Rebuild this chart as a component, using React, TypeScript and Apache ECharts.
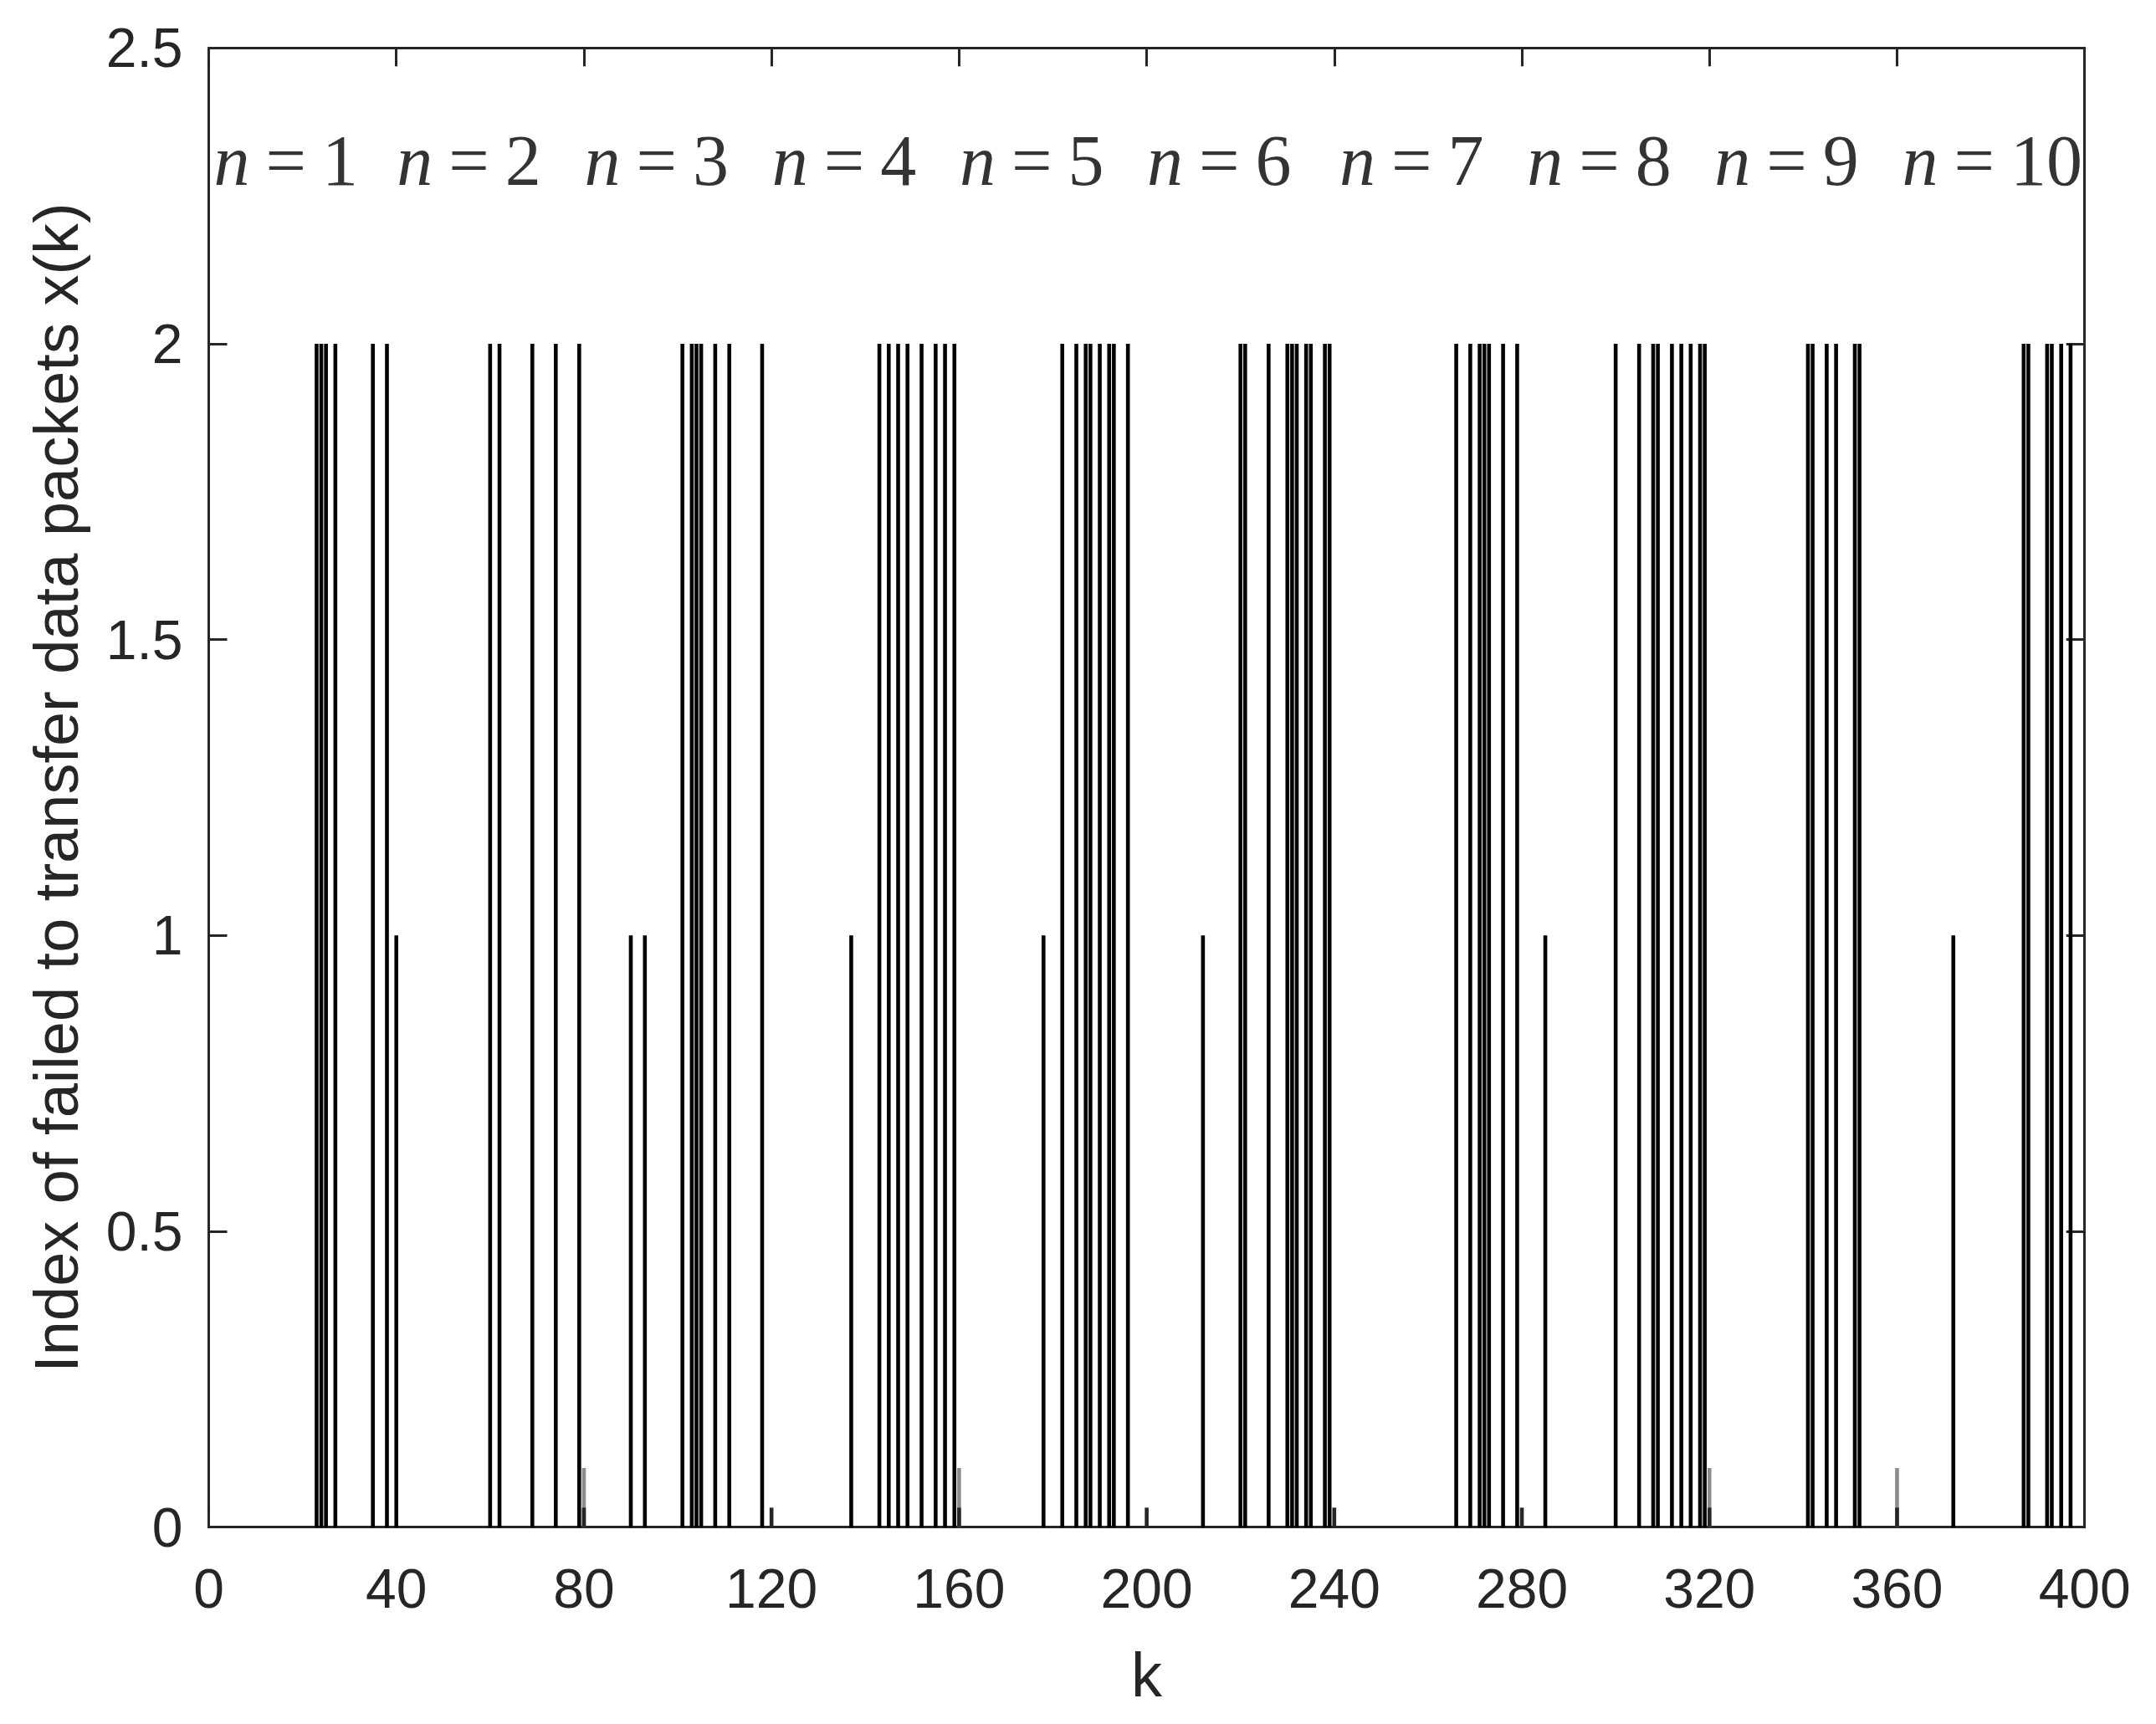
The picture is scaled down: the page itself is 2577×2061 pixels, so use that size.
import React, { useEffect, useRef } from "react";
import * as echarts from "echarts";

// Sample index k of each failed transfer, and the packet index x(k) at that k
const failK: number[] = [
  23, 24, 25, 27, 35, 38, 40, 60, 62, 69, 74, 79, 90, 93, 101, 103, 104, 105, 108, 111, 118,
  137, 143, 145, 147, 149, 152, 155, 157, 159, 178, 182, 185, 187, 188, 190, 192, 193, 196,
  212, 220, 221, 226, 230, 231, 232, 234, 235, 238, 239, 266, 269, 271, 272, 273, 276, 279,
  285, 300, 305, 308, 309, 312, 314, 316, 318, 319, 341, 342, 345, 347, 351, 352, 372,
  387, 388, 392, 393, 395, 397,
];
const failX: number[] = [
  2, 2, 2, 2, 2, 2, 1, 2, 2, 2, 2, 2, 1, 1, 2, 2, 2, 2, 2, 2, 2,
  1, 2, 2, 2, 2, 2, 2, 2, 2, 1, 2, 2, 2, 2, 2, 2, 2, 2,
  1, 2, 2, 2, 2, 2, 2, 2, 2, 2, 2, 2, 2, 2, 2, 2, 2, 2,
  1, 2, 2, 2, 2, 2, 2, 2, 2, 2, 2, 2, 2, 2, 2, 2, 1,
  2, 2, 2, 2, 2, 2,
];

// small residual marks near the baseline
const greyK: number[] = [80, 160, 320, 360];
const greyX: number[] = [0.1, 0.1, 0.1, 0.1];
const darkK: number[] = [80, 120, 160, 200, 240, 280, 320, 360];
const darkX: number[] = [0.033, 0.033, 0.033, 0.033, 0.033, 0.033, 0.033, 0.033];

// segment annotations
const segN: string[] = ["1", "2", "3", "4", "5", "6", "7", "8", "9", "10"];
const segK: number[] = [1, 40, 80, 120, 160, 200, 241, 281, 321, 361];
const segY = 2.31;

const xTitle = "k";
const yTitle = "Index of failed to transfer data packets x(k)";

const AXIS = "#262626";
const SANS = "'Liberation Sans', Arial, Helvetica, sans-serif";
const SERIF = "'Liberation Serif', 'Times New Roman', serif";

export default function App() {
  const ref = useRef<HTMLDivElement>(null);

  useEffect(() => {
    if (!ref.current) return;
    const chart = echarts.init(ref.current, undefined, { renderer: "svg" });

    const axisCommon = {
      axisLine: { show: true, onZero: false, lineStyle: { color: AXIS, width: 3 } },
      axisTick: { show: true, inside: true, length: 22, lineStyle: { color: AXIS, width: 3 } },
      splitLine: { show: false },
    };

    const barCommon = {
      type: "bar" as const,
      barWidth: 4.6,
      barGap: "-100%",
      xAxisIndex: 0,
      yAxisIndex: 0,
    };

    chart.setOption({
      animation: false,
      backgroundColor: "#ffffff",
      grid: { left: 249.5, right: 85.3, top: 57.3, bottom: 235.3, containLabel: false },
      xAxis: [
        {
          type: "value",
          position: "bottom",
          min: 0,
          max: 400,
          interval: 40,
          ...axisCommon,
          axisLabel: { show: true, color: AXIS, fontSize: 66, fontFamily: SANS, margin: 40 },
          name: xTitle,
          nameLocation: "middle",
          nameGap: 140,
          nameTextStyle: { color: AXIS, fontSize: 74, fontFamily: SANS },
        },
        {
          type: "value",
          position: "top",
          min: 0,
          max: 400,
          interval: 40,
          ...axisCommon,
          axisLabel: { show: false },
        },
      ],
      yAxis: [
        {
          type: "value",
          position: "left",
          min: 0,
          max: 2.5,
          interval: 0.5,
          ...axisCommon,
          axisLabel: { show: true, color: AXIS, fontSize: 66, fontFamily: SANS, margin: 31 },
          name: yTitle,
          nameLocation: "middle",
          nameGap: 145,
          nameRotate: 90,
          nameTextStyle: { color: AXIS, fontSize: 74, fontFamily: SANS },
        },
        {
          type: "value",
          position: "right",
          min: 0,
          max: 2.5,
          interval: 0.5,
          ...axisCommon,
          axisLabel: { show: false },
        },
      ],
      series: [
        {
          ...barCommon,
          name: "x(k)",
          data: failK.map((k, i) => [k, failX[i]]),
          itemStyle: { color: "#000000" },
        },
        {
          ...barCommon,
          name: "grey",
          data: greyK.map((k, i) => [k, greyX[i]]),
          itemStyle: { color: "#8c8c8c" },
        },
        {
          ...barCommon,
          name: "dark",
          data: darkK.map((k, i) => [k, darkX[i]]),
          itemStyle: { color: "#262626" },
        },
        {
          type: "scatter",
          name: "segments",
          xAxisIndex: 0,
          yAxisIndex: 0,
          symbol: "circle",
          symbolSize: 1,
          itemStyle: { color: "rgba(0,0,0,0)" },
          data: segK.map((k) => [k, segY]),
          label: {
            show: true,
            position: "right",
            distance: 0,
            color: "#000",
            formatter: (p: any) => `{n|n}{eq|=}{d|${segN[p.dataIndex]}}`,
            rich: {
              n: { fontFamily: SERIF, fontStyle: "italic", fontSize: 86, color: "#000" },
              eq: { fontFamily: SERIF, fontSize: 86, color: "#000", padding: [0, 19, 0, 19] },
              d: { fontFamily: SERIF, fontSize: 86, color: "#000" },
            },
          },
        },
      ],
    });

    return () => {
      chart.dispose();
    };
  }, []);

  return (
    <div
      ref={ref}
      style={{ position: "fixed", left: 0, top: 0, width: 2577, height: 2061, background: "#fff" }}
    />
  );
}
